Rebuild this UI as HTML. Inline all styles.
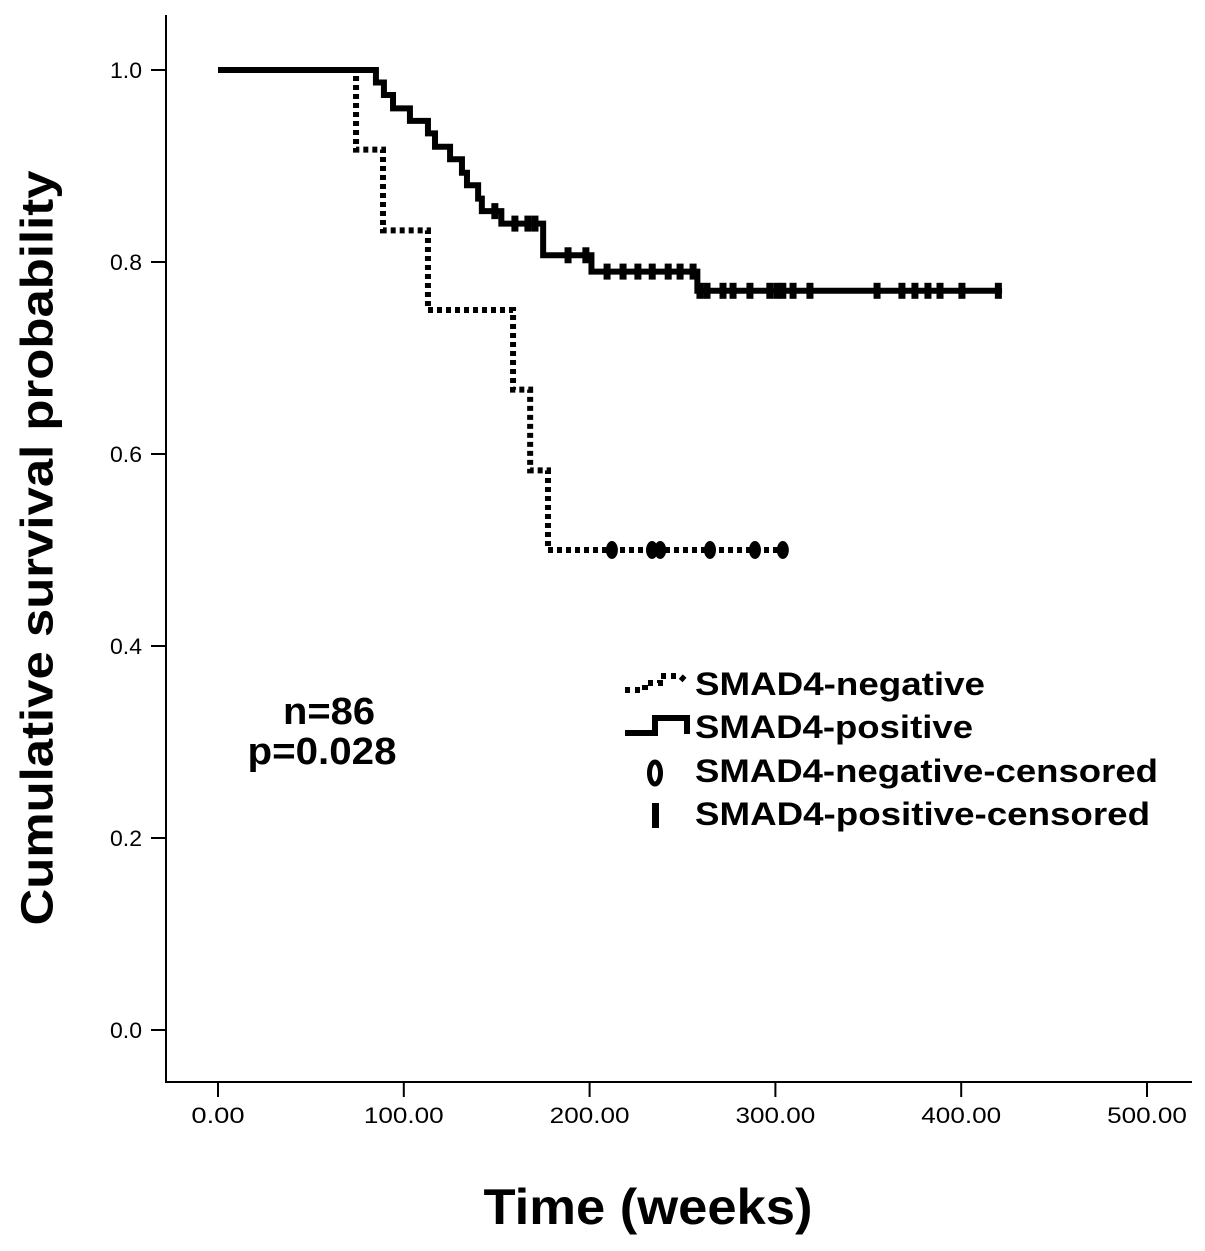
<!DOCTYPE html>
<html><head><meta charset="utf-8"><style>
body{margin:0;background:#fff}
svg text{font-family:"Liberation Sans",Arial,sans-serif}
</style></head><body>
<svg id="chart" width="1205" height="1246" viewBox="0 0 1205 1246">
<g id="axes"></g>
<g id="series"></g>
<text x="37" y="548" transform="rotate(-90 37 548)" text-anchor="middle" dominant-baseline="central" font-size="45" font-weight="bold" textLength="755" lengthAdjust="spacingAndGlyphs">Cumulative survival probability</text>
<text x="648" y="1224" text-anchor="middle" font-size="50" font-weight="bold" textLength="329" lengthAdjust="spacingAndGlyphs">Time (weeks)</text>
<text x="329" y="724" text-anchor="middle" font-size="38" font-weight="bold" textLength="92" lengthAdjust="spacingAndGlyphs">n=86</text>
<text x="322" y="764" text-anchor="middle" font-size="38" font-weight="bold" textLength="149" lengthAdjust="spacingAndGlyphs">p=0.028</text>
<g>
<polyline points="625,690 645,690 645,683 660,683 660,676 680,676 680,676 688,683" fill="none" stroke="#000" stroke-width="6" stroke-dasharray="5 5"/>
<text x="695" y="695" font-size="32" font-weight="bold" textLength="290" lengthAdjust="spacingAndGlyphs">SMAD4-negative</text>
<polyline points="625,733 655,733 655,718 687,718 687,734" fill="none" stroke="#000" stroke-width="6"/>
<text x="695" y="738" font-size="32" font-weight="bold" textLength="278" lengthAdjust="spacingAndGlyphs">SMAD4-positive</text>
<ellipse cx="655" cy="773" rx="5.5" ry="11" fill="none" stroke="#000" stroke-width="5"/>
<text x="695" y="782" font-size="32" font-weight="bold" textLength="463" lengthAdjust="spacingAndGlyphs">SMAD4-negative-censored</text>
<rect x="652" y="803" width="7" height="25" fill="#000"/>
<text x="695" y="825" font-size="32" font-weight="bold" textLength="455" lengthAdjust="spacingAndGlyphs">SMAD4-positive-censored</text>
</g>
</svg>
<script>
const xTicks=[0,100,200,300,400,500];
const xTickLabels=["0.00","100.00","200.00","300.00","400.00","500.00"];
const yTicks=[0,0.2,0.4,0.6,0.8,1.0];
const yTickLabels=["0.0","0.2","0.4","0.6","0.8","1.0"];
const posTimes=[0,85,89.3,94.2,103.3,113,116.8,124.9,131.3,134,140,142,146,152.5,175,201,258,422];
const posSurv=[1,0.987,0.974,0.96,0.947,0.934,0.92,0.907,0.893,0.88,0.866,0.853,0.853,0.84,0.807,0.79,0.77,0.77];
const posCensTimes=[149,159.8,166.8,170.6,188.4,198,209.4,218,226,233.7,242.3,248.7,255.7,259.4,263.2,271.8,277.2,286.3,297,300.8,304,309.5,318.6,354.7,368.1,375.1,382.1,388.6,400.4,420];
const negTimes=[0,74.3,88.8,113,158.8,168,177.6,305];
const negSurv=[1,0.917,0.833,0.75,0.667,0.583,0.5,0.5];
const negCensTimes=[212,233.6,238,264.8,289,304];

const NS="http://www.w3.org/2000/svg";
const sx=v=>218+v*1.858;
const sy=v=>1030-v*960;
function survAt(times,surv,t){let s=surv[0];for(let i=0;i<times.length;i++){if(times[i]<=t)s=surv[i];}return s;}
function mk(tag,attrs,parent){const e=document.createElementNS(NS,tag);for(const k in attrs)e.setAttribute(k,attrs[k]);parent.appendChild(e);return e;}
const axes=document.getElementById('axes');
const series=document.getElementById('series');
let ax=mk('path',{d:'M166 15 V1082 H1192',fill:'none',stroke:'#000','stroke-width':2},axes);


xTicks.forEach((t,i)=>{
 const l=mk('line',{x1:sx(t),x2:sx(t),y1:1082,y2:1097,stroke:'#000','stroke-width':2},axes);
 
 
 const tx=mk('text',{x:sx(t),y:1123,'text-anchor':'middle','font-size':22,textLength:(xTickLabels[i].length*13.3),lengthAdjust:'spacingAndGlyphs'},axes);
 tx.textContent=xTickLabels[i];
 
 
});
yTicks.forEach((t,i)=>{
 const l=mk('line',{x1:151,x2:166,y1:sy(t),y2:sy(t),stroke:'#000','stroke-width':2},axes);
 
 
 const tx=mk('text',{x:142,y:sy(t)+8,'text-anchor':'end','font-size':22,textLength:32,lengthAdjust:'spacingAndGlyphs'},axes);
 tx.textContent=yTickLabels[i];
 
 
});
function stepPath(times,surv){let d='M'+sx(times[0])+' '+sy(surv[0]);for(let i=1;i<times.length;i++){d+=' H'+sx(times[i])+' V'+sy(surv[i]);}return d;}
const neg=mk('path',{d:stepPath(negTimes,negSurv),fill:'none',stroke:'#000','stroke-width':6,'stroke-dasharray':'5 4'},series);


const pos=mk('path',{d:stepPath(posTimes,posSurv),fill:'none',stroke:'#000','stroke-width':6},series);


posCensTimes.forEach(t=>{
 const r=mk('rect',{x:sx(t)-3.5,y:sy(survAt(posTimes,posSurv,t))-8,width:7,height:16,fill:'#000'},series);
 
 
});
negCensTimes.forEach(t=>{
 const e=mk('ellipse',{cx:sx(t),cy:sy(survAt(negTimes,negSurv,t)),rx:5,ry:8,fill:'#000',stroke:'#000','stroke-width':2},series);
 
 
});
</script>
</body></html>
